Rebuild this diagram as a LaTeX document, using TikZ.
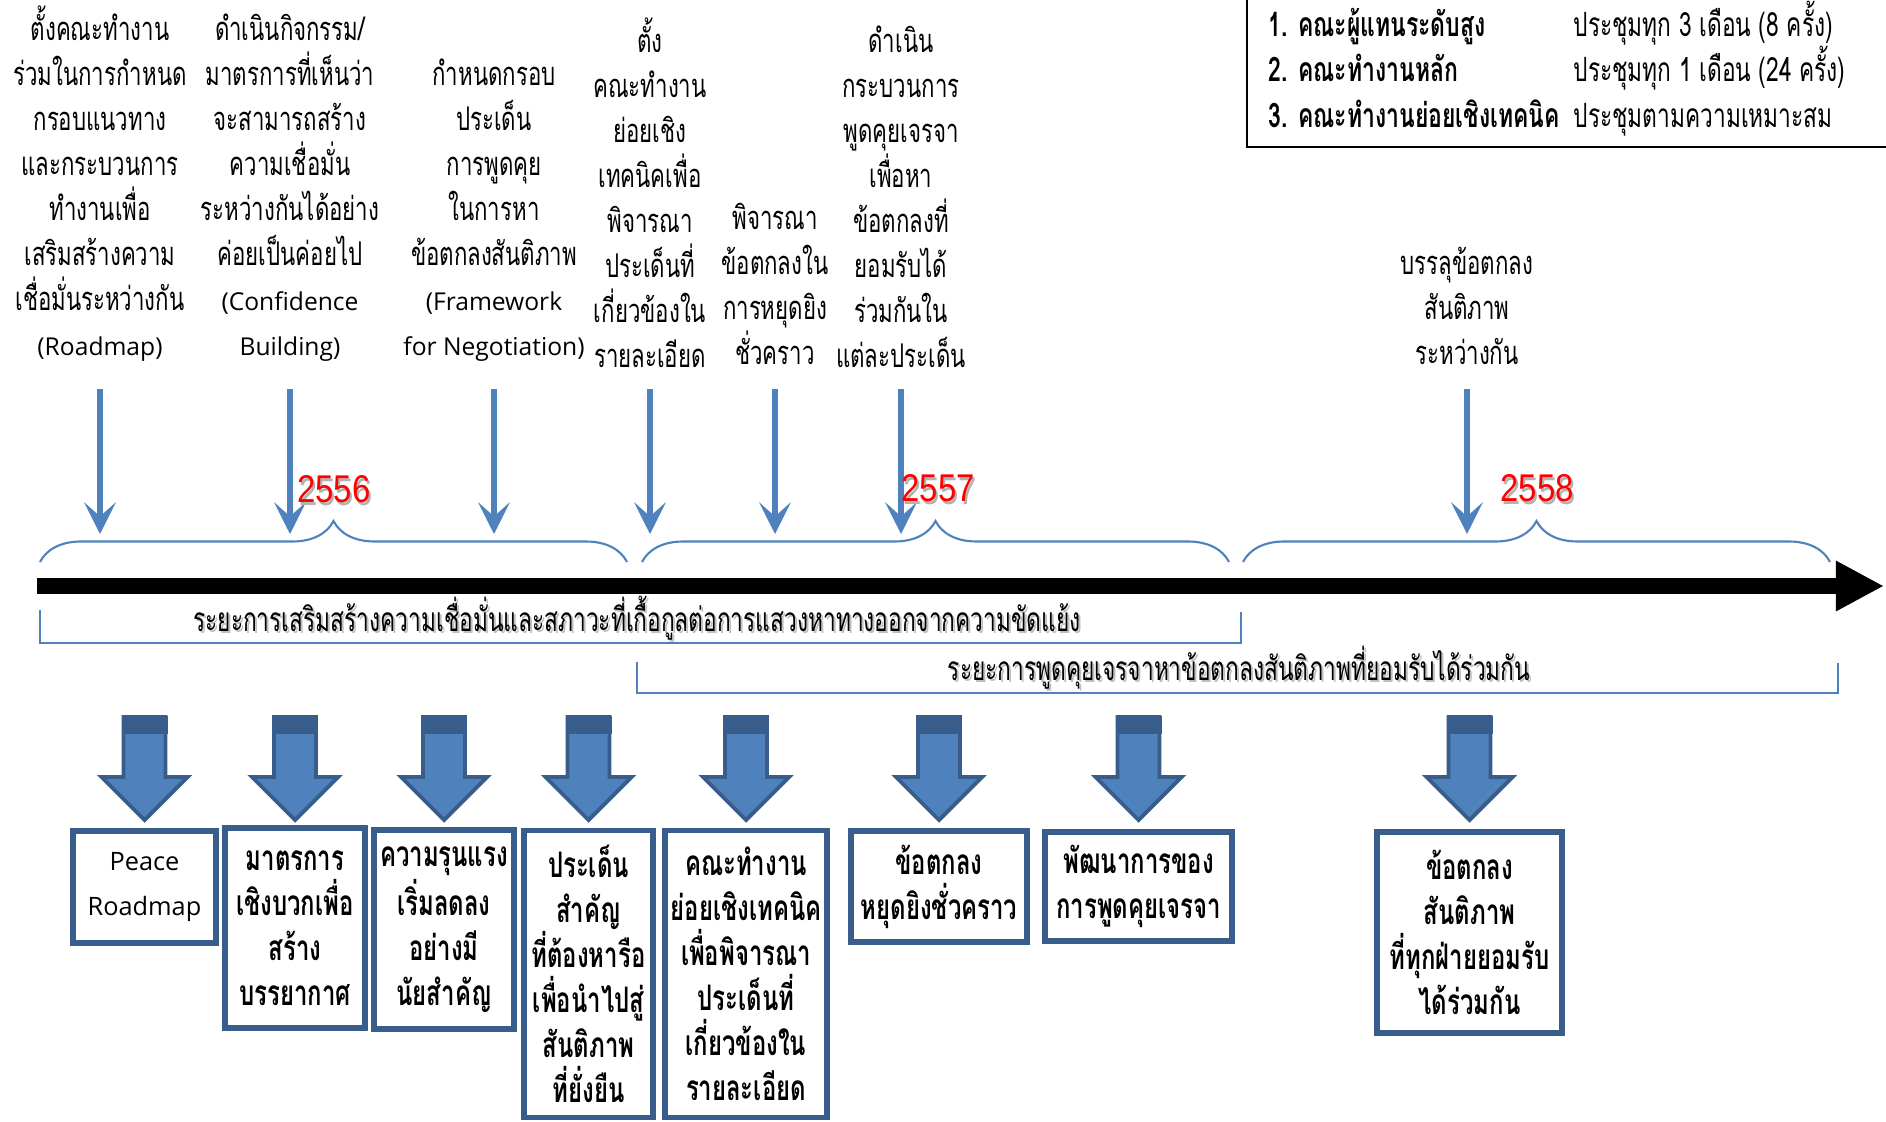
\documentclass[tikz,border=0pt]{standalone}
\usepackage{fontspec}
\setmainfont[Script=Thai,FakeStretch=0.68]{Loma}
\newfontfamily\thaicond[Script=Thai,FakeStretch=0.68]{Loma}
\newfontfamily\thaibox[Script=Thai,FakeStretch=0.68]{Loma}
\newfontfamily\latinfont{Open Sans}
\newfontfamily\yearfont[FakeStretch=0.85]{Liberation Sans}
\usetikzlibrary{arrows.meta,decorations.pathreplacing}

\definecolor{ppblue}{RGB}{79,129,189}
\definecolor{ppdark}{RGB}{56,93,138}

\newcommand{\lat}[1]{{\latinfont\fontsize{7}{12.8}\selectfont #1}}

\tikzset{
  toptext/.style={align=center, inner sep=0pt, anchor=south,
    font=\fontsize{9.3}{12.8}\selectfont},
  thinarrow/.style={draw=ppblue, line width=1.5pt,
    -{Stealth[length=9pt,width=9pt,inset=4pt]}},
  yearlabel/.style={text=red, font=\fontsize{11}{12}\yearfont},
  yearshadow/.style={text=black!30, font=\fontsize{11}{12}\yearfont},
  yearbrace/.style={draw=ppblue, line width=0.6pt, decorate,
    decoration={brace, amplitude=4.1mm}},
  phase/.style={draw=ppblue, line width=0.7pt},
  phaselabel/.style={inner sep=0pt, font=\fontsize{9.5}{12}\thaicond},
  phaseshadow/.style={inner sep=0pt, text=black!25, font=\fontsize{9.5}{12}\thaicond},
  resultbox/.style={draw=ppdark, line width=1.5pt, align=center, inner sep=0pt,
    font=\fontsize{10}{12.8}\thaibox\bfseries},
  legendbold/.style={anchor=base west, inner sep=0pt, font=\fontsize{9.6}{12}\selectfont\bfseries},
  legendtext/.style={anchor=base west, inner sep=0pt, font=\fontsize{9.5}{12}\selectfont},
}

% block arrow above a result box
\newcommand{\bigdown}[1]{%
  \filldraw[fill=ppblue, draw=ppdark, line width=1.1pt]
    (#1 |- atop) ++(-21,0) -- ++(0,60) -- ++(-22,0) -- ++(43,43)
    -- ++(43,-43) -- ++(-22,0) -- ++(0,-60) -- cycle;
  \fill[ppdark] (#1 |- atop) ++(-23,-1) rectangle ++(46,18);
}

\begin{document}
\begin{tikzpicture}[x=0.01cm, y=-0.01cm]
\useasboundingbox (0,0) rectangle (1886,1121);

% legend
\draw[line width=0.7pt] (1247,-20) rectangle (1900,147);
\node[legendbold] (l1) at (1268,36) {1. คณะผู้แทนระดับสูง};
\node[legendbold] (l2) at (1268,81) {2. คณะทำงานหลัก};
\node[legendbold] (l3) at (1268,127) {3. คณะทำงานย่อยเชิงเทคนิค};
\node[legendtext] (m1) at (1573,36) {ประชุมทุก 3 เดือน (8 ครั้ง)};
\node[legendtext] (m2) at (1573,81) {ประชุมทุก 1 เดือน (24 ครั้ง)};
\node[legendtext] (m3) at (1573,127) {ประชุมตามความเหมาะสม};

% steps above the time line
\node[toptext] (t1) at (100,362) {ตั้งคณะทำงาน\\ร่วมในการกำหนด\\กรอบแนวทาง\\และกระบวนการ\\ทำงานเพื่อ\\เสริมสร้างความ\\เชื่อมั่นระหว่างกัน\\\lat{(Roadmap)}};
\node[toptext] (t2) at (290,362) {ดำเนินกิจกรรม/\\มาตรการที่เห็นว่า\\จะสามารถสร้าง\\ความเชื่อมั่น\\ระหว่างกันได้อย่าง\\ค่อยเป็นค่อยไป\\\lat{(Confidence}\\\lat{Building)}};
\node[toptext] (t3) at (494,362) {กำหนดกรอบ\\ประเด็น\\การพูดคุย\\ในการหา\\ข้อตกลงสันติภาพ\\\lat{(Framework}\\\lat{for Negotiation)}};
\node[toptext] (t4) at (650,368) {ตั้ง\\คณะทำงาน\\ย่อยเชิง\\เทคนิคเพื่อ\\พิจารณา\\ประเด็นที่\\เกี่ยวข้องใน\\รายละเอียด};
\node[toptext] (t5) at (775,365) {พิจารณา\\ข้อตกลงใน\\การหยุดยิง\\ชั่วคราว};
\node[toptext] (t6) at (901,368) {ดำเนิน\\กระบวนการ\\พูดคุยเจรจา\\เพื่อหา\\ข้อตกลงที่\\ยอมรับได้\\ร่วมกันใน\\แต่ละประเด็น};
\node[toptext] (t7) at (1467,365) {บรรลุข้อตกลง\\สันติภาพ\\ระหว่างกัน};

\coordinate (atop) at (0,389);
\coordinate (abot) at (0,534);
\foreach \n in {t1,t2,t3,t4,t5,t6,t7}
  \draw[thinarrow] (\n |- atop) -- (\n |- abot);

% years
\draw[yearbrace] (40,562) -- (627,562);
\draw[yearbrace] (642,562) -- (1229,562);
\draw[yearbrace] (1243,562) -- (1830,562);
\node[yearshadow] at (336,492) {2556};
\node[yearlabel] (y1) at (334,489) {2556};
\node[yearshadow] at (940,491) {2557};
\node[yearlabel] (y2) at (938,488) {2557};
\node[yearshadow] at (1539,491) {2558};
\node[yearlabel] (y3) at (1537,488) {2558};

% time line
\coordinate (tl0) at (37,586);
\coordinate (tl1) at (1884,586);
\draw[line width=4.3pt, -{Triangle[length=13.7pt,width=13.4pt]}] (tl0) -- (tl1);

% phases
\draw[phase] (40,610) |- (1241,643) -- (1241,612);
\node[phaseshadow] at (639,620) {ระยะการเสริมสร้างความเชื่อมั่นและสภาวะที่เกื้อกูลต่อการแสวงหาทางออกจากความขัดแย้ง};
\node[phaselabel] (p1) at (637,618) {ระยะการเสริมสร้างความเชื่อมั่นและสภาวะที่เกื้อกูลต่อการแสวงหาทางออกจากความขัดแย้ง};
\draw[phase] (637,662) |- (1838,693) -- (1838,663);
\node[phaseshadow] at (1241,670) {ระยะการพูดคุยเจรจาหาข้อตกลงสันติภาพที่ยอมรับได้ร่วมกัน};
\node[phaselabel] (p2) at (1239,668) {ระยะการพูดคุยเจรจาหาข้อตกลงสันติภาพที่ยอมรับได้ร่วมกัน};

% results
\node[resultbox, minimum width=1.43cm, minimum height=1.12cm, font=\latinfont\fontsize{7.2}{12.8}\selectfont] (b1) at (144.5,887) {Peace\\Roadmap};
\node[resultbox, minimum width=1.40cm, minimum height=2.00cm] (b2) at (295,928) {มาตรการ\\เชิงบวกเพื่อ\\สร้าง\\บรรยากาศ};
\node[resultbox, minimum width=1.40cm, minimum height=1.99cm] (b3) at (444,929.5) {ความรุนแรง\\เริ่มลดลง\\อย่างมี\\นัยสำคัญ};
\node[resultbox, minimum width=1.29cm, minimum height=2.87cm] (b4) at (588.5,974) {ประเด็น\\สำคัญ\\ที่ต้องหารือ\\เพื่อนำไปสู่\\สันติภาพ\\ที่ยั่งยืน};
\node[resultbox, minimum width=1.62cm, minimum height=2.87cm] (b5) at (746,974) {คณะทำงาน\\ย่อยเชิงเทคนิค\\เพื่อพิจารณา\\ประเด็นที่\\เกี่ยวข้องใน\\รายละเอียด};
\node[resultbox, minimum width=1.76cm, minimum height=1.11cm] (b6) at (939,886.5) {ข้อตกลง\\หยุดยิงชั่วคราว};
\node[resultbox, minimum width=1.87cm, minimum height=1.09cm] (b7) at (1138.5,886.5) {พัฒนาการของ\\การพูดคุยเจรจา};
\node[resultbox, minimum width=1.85cm, minimum height=2.01cm] (b8) at (1469.5,932.5) {ข้อตกลง\\สันติภาพ\\ที่ทุกฝ่ายยอมรับ\\ได้ร่วมกัน};

\coordinate (atop) at (0,717);
\foreach \b in {b1,b2,b3,b4,b5,b6,b7,b8}
  \bigdown{\b};
\end{tikzpicture}
\end{document}
